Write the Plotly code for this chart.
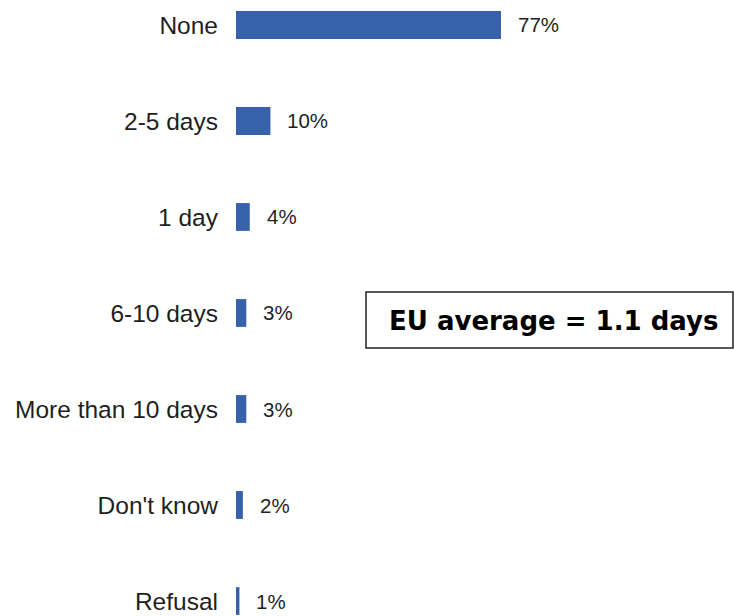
import plotly.graph_objects as go

# ── Data ──────────────────────────────────────────────────────────────────────
categories = ["None", "2-5 days", "1 day", "6-10 days",
              "More than 10 days", "Don't know", "Refusal"]
shares = [77, 10, 4, 3, 3, 2, 1]
note = "EU average = 1.1 days"

BAR = "#3861AC"
TEXT = "#1f1f1f"
LABEL_FONT = "Liberation Sans Narrow, Arial Narrow, Liberation Sans, Arial, sans-serif"

W, H = 734, 616
L = 236  # left margin (px)

# bottom-to-top order for the categorical axis
cats = categories[::-1]
vals = shares[::-1]


def px_x(p):
    """figure pixel -> paper x (paper spans the plot area only)"""
    return (p - L) / (W - L)


fig = go.Figure(go.Bar(
    x=vals,
    y=cats,
    orientation="h",
    marker=dict(color=BAR, line=dict(width=0)),
    width=0.29,
    hoverinfo="skip",
))

for c, v in zip(cats, vals):
    fig.add_annotation(
        x=v, y=c, text=f"{v}%", showarrow=False,
        xanchor="left", yanchor="middle", xshift=15,
        font=dict(family=LABEL_FONT, size=20.5, color=TEXT),
    )

# note box
fig.add_shape(type="rect", xref="paper", yref="paper",
              x0=px_x(366), x1=px_x(733), y0=1 - 348 / H, y1=1 - 292 / H,
              line=dict(color="#222222", width=1.5), fillcolor="white")
fig.add_annotation(
    xref="paper", yref="paper", x=px_x((366 + 733) / 2 + 4), y=1 - 321 / H,
    text=f"<b>{note}</b>", showarrow=False, xanchor="center", yanchor="middle",
    font=dict(family="Verdana, DejaVu Sans, sans-serif", size=26, color="#000000"),
)

fig.update_layout(
    width=W, height=H,
    margin=dict(l=L, r=0, t=0, b=0, autoexpand=False),
    paper_bgcolor="white", plot_bgcolor="white",
    showlegend=False,
    hovermode=False,
    xaxis=dict(range=[0, 144.7], visible=False, fixedrange=True),
    yaxis=dict(
        range=[-0.156, 6.26],
        automargin=False, fixedrange=True,
        showgrid=False, zeroline=False, showline=False,
        ticks="", ticklabelstandoff=17,
        tickfont=dict(family=LABEL_FONT, size=24.5, color=TEXT),
    ),
)

# drop the page's default body margin so the figure sits at the top-left corner
fig.write_html("out.html", config={"displayModeBar": False},
               post_script="document.body.style.margin='0';")
